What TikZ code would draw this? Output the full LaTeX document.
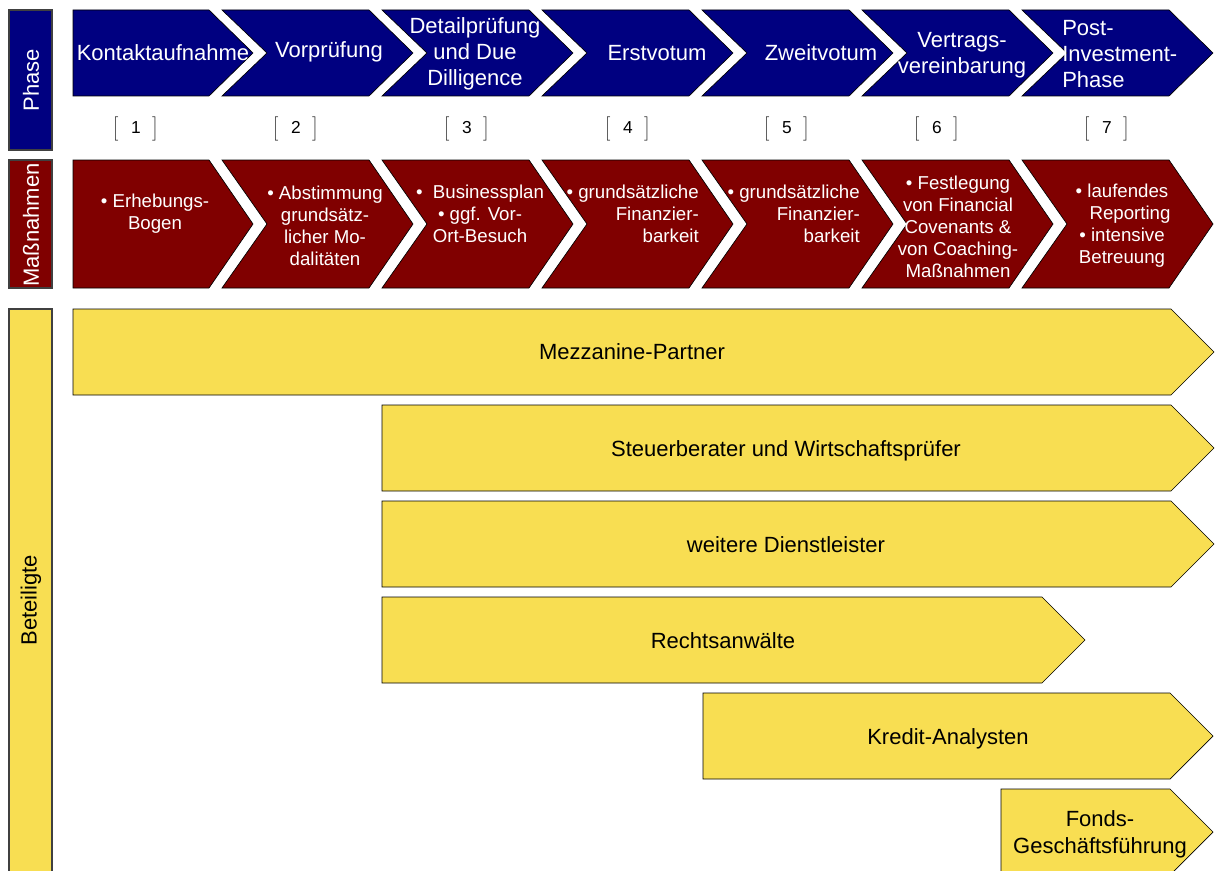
\documentclass[tikz,border=0pt]{standalone}
\usepackage{fontspec}
\setmainfont{Liberation Sans}
\definecolor{phaseblue}{HTML}{000080}
\definecolor{stepred}{HTML}{800000}
\definecolor{partyellow}{HTML}{F8DE52}
\newcommand\brk[1]{$\Big#1$}

\begin{document}
\begin{tikzpicture}[x=0.75pt,y=0.75pt,
  every node/.append style={inner sep=0pt},
  phasebox/.style={draw=black,fill=phaseblue,line width=0.5pt},
  stepbox/.style={draw=black,fill=stepred,line width=0.5pt},
  partbox/.style={draw=black,fill=partyellow,line width=0.5pt},
  sidebox/.style={draw=black!75,line width=1pt},
  phasetext/.style={text=white,align=center,font=\fontsize{16.5}{19.5}\selectfont},
  steptext/.style={text=white,align=center,font=\fontsize{14}{16.5}\selectfont},
  parttext/.style={text=black,align=center,font=\fontsize{16.5}{20}\selectfont},
  numtext/.style={font=\fontsize{13}{14}\selectfont}]
  \clip (0,0) rectangle (1219,-870);
  % side labels
  \draw [sidebox,fill=phaseblue] (9,-10) rectangle (52,-150);
  \node [phasetext,rotate=90] (lphase) at (31,-80) {Phase};
  \draw [sidebox,fill=stepred] (9,-160) rectangle (52,-288);
  \node [phasetext,rotate=90] (lsteps) at (31,-225) {Maßnahmen};
  \draw [sidebox,fill=partyellow] (9,-309) rectangle (52,-880);
  \node [parttext,rotate=90] (lparts) at (31,-600) {Beteiligte};
  % phase chevrons
  \draw [phasebox] (73,-10) -- (209,-10) -- (253,-53) -- (209,-96) -- (73,-96) -- cycle;
  \foreach \k in {1,...,6}
    \draw [phasebox] ({62+160*\k},-10) -- ++(147,0) -- ++(44,-43) -- ++(-44,-43) -- ++(-147,0) -- ++(45,43) -- cycle;
  \node [phasetext] (ph1) at (163,-53) {Kontaktaufnahme};
  \node [phasetext] (ph2) at (329,-52) {Vorprüfung};
  \node [phasetext] (ph3) at (475,-54) {Detailprüfung\\und Due\\Dilligence};
  \node [phasetext] (ph4) at (657,-53) {Erstvotum};
  \node [phasetext] (ph5) at (821,-53) {Zweitvotum};
  \node [phasetext] (ph6) at (962,-55) {Vertrags-\\vereinbarung};
  \node [phasetext,align=left,anchor=west] (ph7) at (1062,-54) {Post-\\Investment-\\Phase};
  % numbers
  \foreach \x [count=\i] in {136,296,467,628,787,937,1107}
    \node [numtext] (num\i) at (\x,-129) {\brk[\hspace{9pt}\i\hspace{9pt}\brk]};
  % measures
  \draw [stepbox] (73,-160) -- (209,-160) -- (253,-224) -- (209,-288) -- (73,-288) -- cycle;
  \foreach \k in {1,...,6}
    \draw [stepbox] ({62+160*\k},-160) -- ++(147,0) -- ++(44,-64) -- ++(-44,-64) -- ++(-147,0) -- ++(45,64) -- cycle;
  \node [steptext] (st1) at (155,-214) {• Erhebungs-\\Bogen};
  \node [steptext] (st2) at (325,-226) {• Abstimmung\\grundsätz-\\licher Mo-\\dalitäten};
  \node [steptext] (st3) at (480,-214) {•\ \ Businessplan\\• ggf. Vor-\\Ort-Besuch};
  \node [steptext,align=right,anchor=east] (st4) at (699,-214) {• grundsätzliche\\Finanzier-\hspace*{8pt}\\barkeit};
  \node [steptext,align=right,anchor=east] (st5) at (860,-214) {• grundsätzliche\\Finanzier-\hspace*{8pt}\\barkeit};
  \node [steptext] (st6) at (958,-227) {• Festlegung\\von Financial\\Covenants \&\\von Coaching-\\Maßnahmen};
  \node [steptext] (st7) at (1122,-226) {• laufendes\\\hspace*{12pt}Reporting\\• intensive\\Betreuung};
  % participants
  \foreach \l/\t/\r in {73/309/1171, 382/405/1171, 382/501/1171, 382/597/1042, 703/693/1170, 1001/789/1170}
    \draw [partbox] (\l,-\t) -- (\r,-\t) -- ++(43,-43) -- ++(-43,-43) -- ++({\l-\r},0) -- cycle;
  \node [parttext] (mezz) at (632,-352) {Mezzanine-Partner};
  \node [parttext] (stb) at (786,-451) {Steuerberater und Wirtschaftsprüfer};
  \node [parttext] (dienst) at (786,-545) {weitere Dienstleister};
  \node [parttext] (ra) at (723,-641) {Rechtsanwälte};
  \node [parttext] (kredit) at (948,-739) {Kredit-Analysten};
  \node [parttext] (fonds) at (1100,-834) {Fonds-\\Geschäftsführung};
\end{tikzpicture}
\end{document}
